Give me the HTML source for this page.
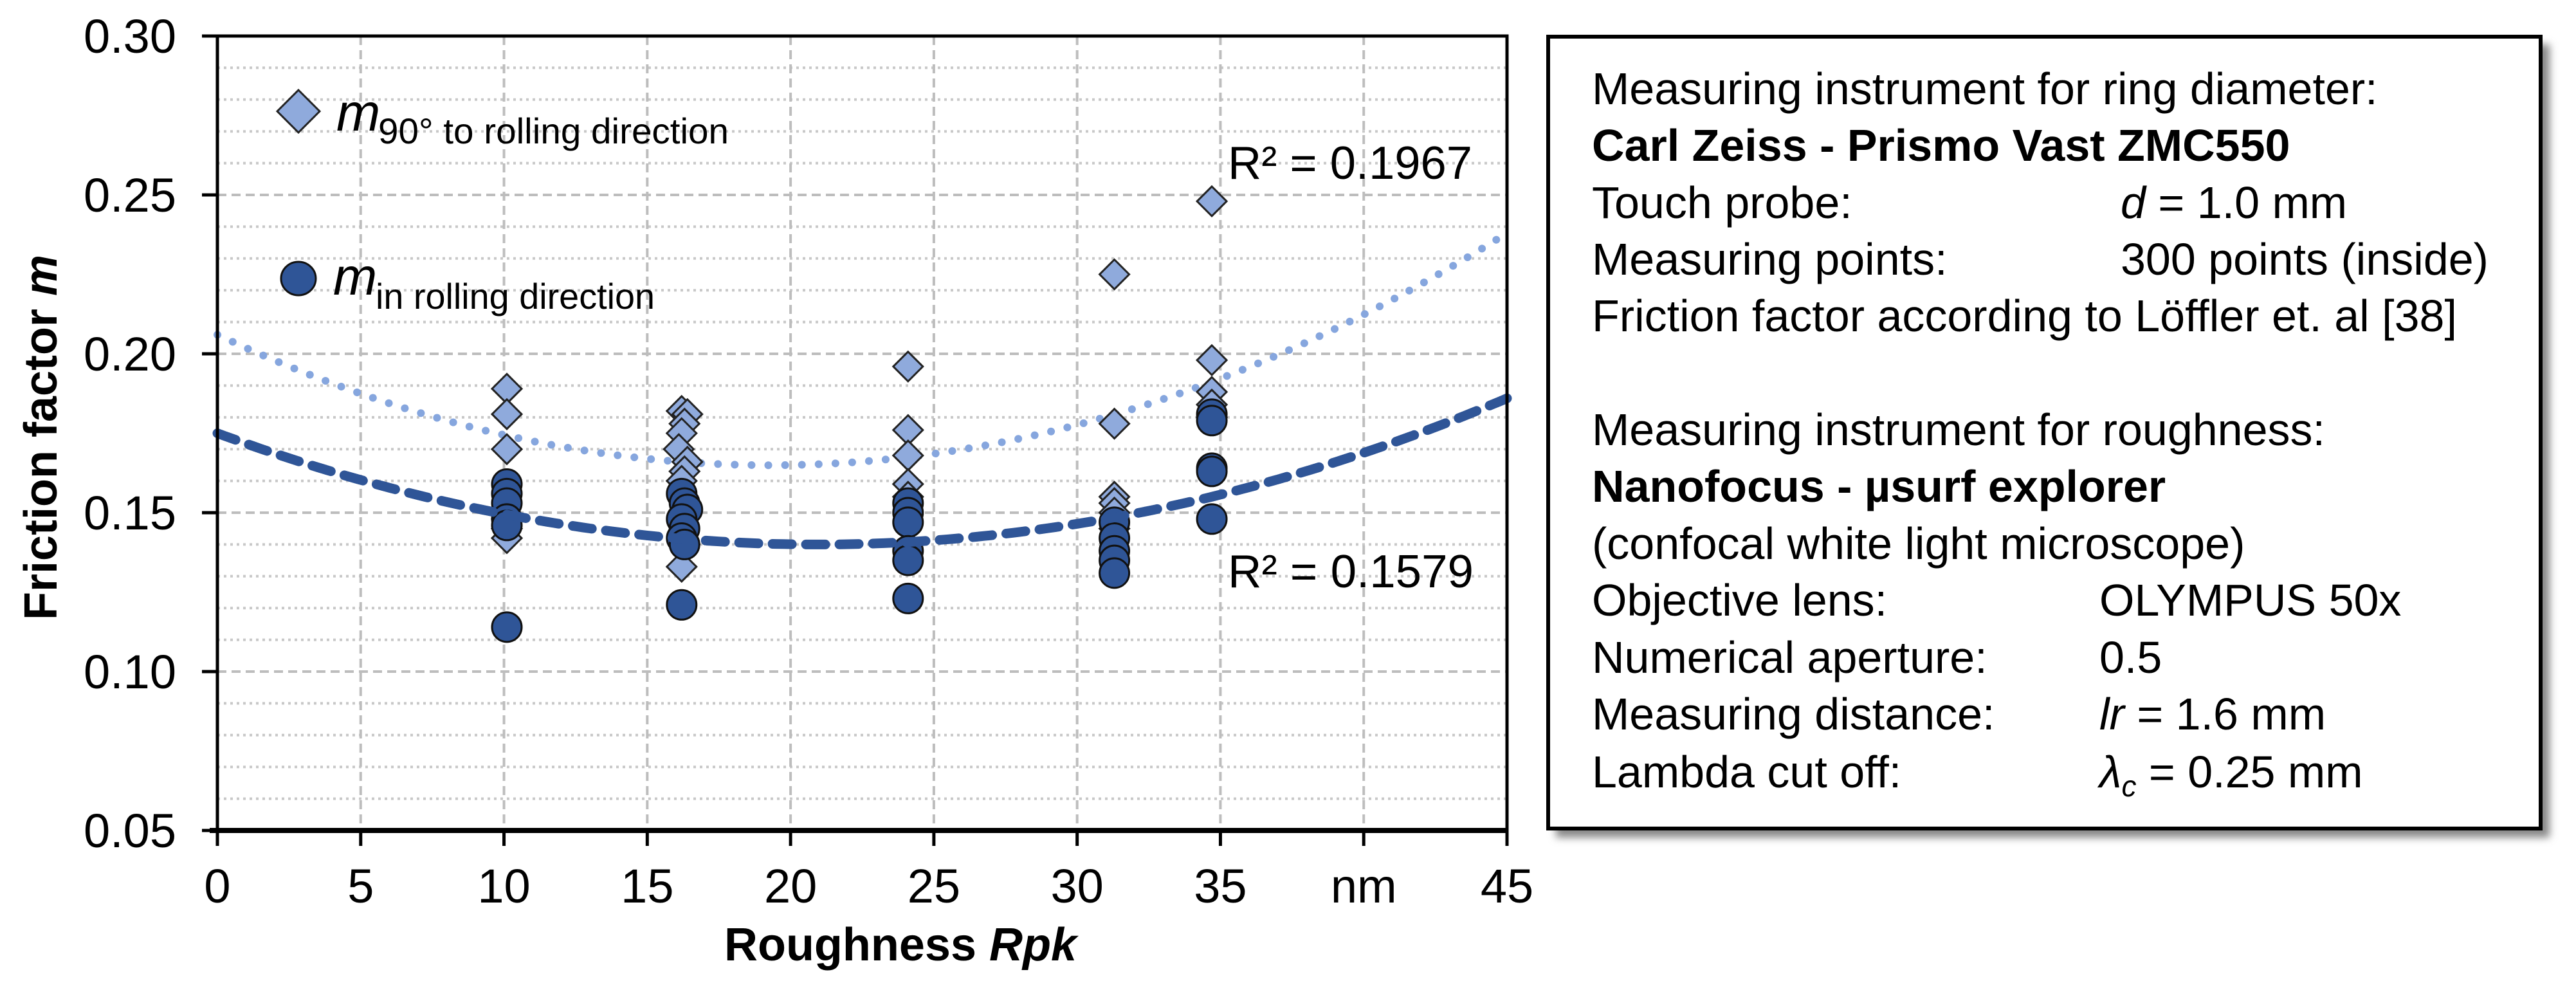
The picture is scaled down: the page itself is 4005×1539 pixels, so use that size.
<!DOCTYPE html>
<html><head><meta charset="utf-8"><style>
html,body{margin:0;padding:0;background:#fff;}
svg{display:block;font-family:"Liberation Sans",Arial,sans-serif;}
</style></head><body>
<svg id="chart" width="4005" height="1539" viewBox="0 0 4005 1539" xmlns="http://www.w3.org/2000/svg">
<defs><filter id="sh" x="-5%" y="-5%" width="115%" height="115%"><feGaussianBlur stdDeviation="6"/></filter></defs>
<g id="grid"></g>
<g id="trends"></g>
<g id="marks"></g>
<g id="axes"></g>
<g>
  <polygon points="464,140 497,173 464,206 431,173" fill="#8faadc" stroke="#222" stroke-width="3"/>
  <text x="523" y="203" font-size="82" font-style="italic">m</text>
  <text x="588" y="223" font-size="56" textLength="545" lengthAdjust="spacingAndGlyphs">90° to rolling direction</text>
  <ellipse cx="464" cy="433" rx="27" ry="26" fill="#2f5597" stroke="#111" stroke-width="3"/>
  <text x="518" y="458" font-size="82" font-style="italic">m</text>
  <text x="584" y="480" font-size="56" textLength="434" lengthAdjust="spacingAndGlyphs">in rolling direction</text>
</g>
<text x="1909" y="278" font-size="72" textLength="380" lengthAdjust="spacingAndGlyphs">R² = 0.1967</text>
<text x="1909" y="913" font-size="72" textLength="382" lengthAdjust="spacingAndGlyphs">R² = 0.1579</text>
<text transform="translate(88,680) rotate(-90)" text-anchor="middle" font-size="72" font-weight="bold">Friction factor <tspan font-style="italic">m</tspan></text>
<text x="1400" y="1493" text-anchor="middle" font-size="72" font-weight="bold">Roughness <tspan font-style="italic">Rpk</tspan></text>
<g>
  <rect x="2419" y="69" width="1545" height="1233" fill="#888" filter="url(#sh)"/>
  <rect x="2407" y="57" width="1543" height="1231" fill="#fff" stroke="#000" stroke-width="6"/>
  <g font-size="70">
    <text x="2475" y="162">Measuring instrument for ring diameter:</text>
    <text x="2475" y="250" font-weight="bold">Carl Zeiss - Prismo Vast ZMC550</text>
    <text x="2475" y="339">Touch probe:</text>
    <text x="3297" y="339"><tspan font-style="italic">d</tspan> = 1.0 mm</text>
    <text x="2475" y="427">Measuring points:</text>
    <text x="3297" y="427">300 points (inside)</text>
    <text x="2475" y="515">Friction factor according to Löffler et. al [38]</text>
    <text x="2475" y="692">Measuring instrument for roughness:</text>
    <text x="2475" y="780" font-weight="bold">Nanofocus - µsurf explorer</text>
    <text x="2475" y="869">(confocal white light microscope)</text>
    <text x="2475" y="957">Objective lens:</text>
    <text x="3264" y="957">OLYMPUS 50x</text>
    <text x="2475" y="1046">Numerical aperture:</text>
    <text x="3264" y="1046">0.5</text>
    <text x="2475" y="1134">Measuring distance:</text>
    <text x="3264" y="1134"><tspan font-style="italic">lr</tspan> = 1.6 mm</text>
    <text x="2475" y="1224">Lambda cut off:</text>
    <text x="3264" y="1224"><tspan font-style="italic">λ</tspan><tspan font-style="italic" font-size="46" dy="14">c</tspan><tspan dy="-14"> = 0.25 mm</tspan></text>
  </g>
</g>
</svg>
<script>
const xTicks=[0,5,10,15,20,25,30,35,40,45];
const xTickLabels=["0","5","10","15","20","25","30","35","nm","45"];
const yTicks=[0.05,0.10,0.15,0.20,0.25,0.30];
const yTickLabels=["0.05","0.10","0.15","0.20","0.25","0.30"];
const d90X=[10.1,10.1,10.1,10.1,10.1,10.1,16.2,16.4,16.3,16.2,16.1,16.4,16.3,16.2,16.3,16.2,24.1,24.1,24.1,24.1,24.1,31.3,31.3,31.3,31.3,31.3,31.3,34.7,34.7,34.7,34.7,34.7];
const d90Y=[0.189,0.181,0.170,0.148,0.145,0.142,0.182,0.181,0.178,0.175,0.170,0.166,0.163,0.160,0.140,0.133,0.196,0.176,0.168,0.159,0.155,0.225,0.178,0.155,0.153,0.150,0.145,0.248,0.198,0.188,0.184,0.180];
const dInX=[10.1,10.1,10.1,10.1,10.1,10.1,16.2,16.3,16.4,16.2,16.3,16.2,16.3,16.2,24.1,24.1,24.1,24.1,24.1,24.1,31.3,31.3,31.3,31.3,31.3,34.7,34.7,34.7,34.7,34.7];
const dInY=[0.159,0.156,0.153,0.148,0.146,0.114,0.156,0.153,0.151,0.148,0.145,0.142,0.140,0.121,0.153,0.150,0.147,0.138,0.135,0.123,0.147,0.142,0.138,0.135,0.131,0.181,0.179,0.164,0.163,0.148];
const trend90=[0.206,-0.004259,0.00011044];
const trendIn=[0.175,-0.003339,0.00007963];
const NS='http://www.w3.org/2000/svg';
const X0=338,X1=2343,Y0=1291,Y1=56;
const sx=v=>X0+(v-0)/(45-0)*(X1-X0);
const sy=v=>Y0-(v-0.05)/(0.30-0.05)*(Y0-Y1);
function mk(tag,parent,attrs){const e=document.createElementNS(NS,tag);for(const k in attrs)e.setAttribute(k,attrs[k]);document.getElementById(parent).appendChild(e);return e;}
for(let i=1;i<25;i++){const v=0.05+i*0.01;if(i%5===0)continue;
 const e=mk('line','grid',{x1:X0,x2:X1,y1:sy(v),y2:sy(v),stroke:'#c8c8c8','stroke-width':4,'stroke-dasharray':'4 6'});
 
 }
yTicks.forEach(v=>{const e=mk('line','grid',{x1:X0,x2:X1,y1:sy(v),y2:sy(v),stroke:'#bdbdbd','stroke-width':4,'stroke-dasharray':'14 8'});
 
 });
xTicks.forEach(v=>{const e=mk('line','grid',{x1:sx(v),x2:sx(v),y1:Y1,y2:Y0,stroke:'#bdbdbd','stroke-width':4,'stroke-dasharray':'14 8'});
 
 });
function tpath(c){let d='';for(let x=0;x<=45;x+=0.25){const y=c[0]+c[1]*x+c[2]*x*x;d+=(x===0?'M':'L')+sx(x).toFixed(1)+','+sy(y).toFixed(1);}return d;}
let t1=mk('path','trends',{d:tpath(trend90),fill:'none',stroke:'#86a6de','stroke-width':12,'stroke-linecap':'round','stroke-dasharray':'0.1 26'});


const r=23;
d90X.forEach((x,i)=>{const cx=sx(x),cy=sy(d90Y[i]);
 const e=mk('polygon','marks',{points:`${cx},${cy-r} ${cx+r},${cy} ${cx},${cy+r} ${cx-r},${cy}`,fill:'#8faadc',stroke:'#222','stroke-width':3});
 
 });
dInX.forEach((x,i)=>{const e=mk('circle','marks',{cx:sx(x),cy:sy(dInY[i]),r:r,fill:'#2f5597',stroke:'#111','stroke-width':3});
 
 });
let t2=mk('path','marks',{d:tpath(trendIn),fill:'none',stroke:'#2f5597','stroke-width':15,'stroke-linecap':'round','stroke-dasharray':'30 22'});


let fr=mk('rect','axes',{x:X0,y:Y1,width:X1-X0,height:Y0-Y1,fill:'none',stroke:'#000','stroke-width':5});


let bx=mk('line','axes',{x1:X0-12,x2:X1,y1:Y0,y2:Y0,stroke:'#000','stroke-width':8});


xTicks.forEach((v,i)=>{const t=mk('line','axes',{x1:sx(v),x2:sx(v),y1:Y0,y2:Y0+24,stroke:'#000','stroke-width':5});
 
 
 const l=mk('text','axes',{x:sx(v),y:1403,'text-anchor':'middle','font-size':74});
 l.textContent=xTickLabels[i];
 
 });
yTicks.forEach((v,i)=>{const t=mk('line','axes',{x1:X0-24,x2:X0,y1:sy(v),y2:sy(v),stroke:'#000','stroke-width':5});
 
 
 const l=mk('text','axes',{x:274,y:sy(v)+26,'text-anchor':'end','font-size':74});
 l.textContent=yTickLabels[i];
 
 });
</script>
</body></html>
